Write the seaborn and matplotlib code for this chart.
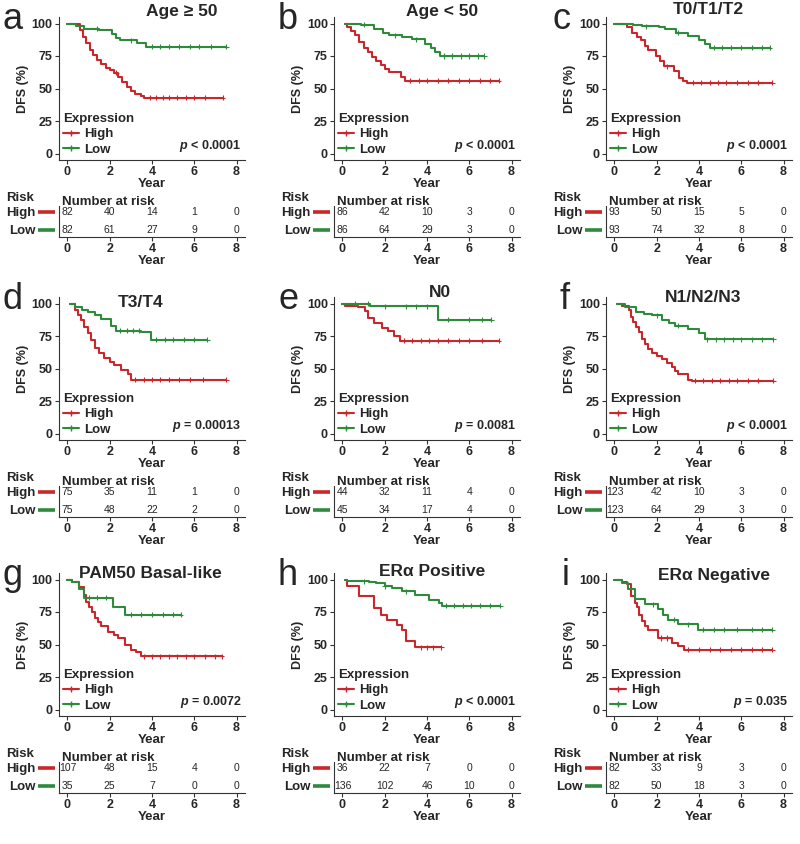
import numpy as np
import pandas as pd
import matplotlib
matplotlib.use('Agg')
import matplotlib.pyplot as plt
from matplotlib.lines import Line2D
import seaborn as sns

# --- curves: step times (years) and DFS (%) ---
a_high_t = [0, 0.6, 0.75, 0.9, 1.05, 1.2, 1.4, 1.6, 1.8, 2.0, 2.2, 2.4, 2.6, 2.8, 3.0, 3.2, 3.5, 3.6, 7.35]
a_high_s = [100, 95, 90, 85, 80, 76, 72, 69, 66, 64, 62, 59, 55, 51, 48, 46, 44, 43, 43]
a_low_t = [0, 0.4, 0.8, 1.5, 2.1, 2.3, 2.5, 3.3, 3.7, 7.5]
a_low_s = [100, 98, 96, 95, 92, 89, 87, 85, 82, 82]
a_high_c = [2.3, 3.9, 4.2, 4.5, 4.8, 5.2, 5.6, 6.0, 6.5, 7.35]
a_low_c = [1.4, 3.0, 4.0, 4.4, 4.8, 5.3, 5.8, 6.2, 6.8, 7.5]

b_high_t = [0.1, 0.2, 0.4, 0.6, 0.8, 1.0, 1.2, 1.4, 1.6, 1.8, 2.0, 2.2, 2.75, 2.95, 7.4]
b_high_s = [100, 97, 94, 91, 86, 81, 78, 74, 71, 68, 65, 62.5, 59, 56, 56]
b_low_t = [0.1, 0.9, 1.5, 1.9, 2.2, 2.8, 3.3, 3.9, 4.2, 4.4, 4.6, 6.7]
b_low_s = [100, 99, 96, 93, 91, 90, 88, 84, 81, 78, 75, 75]
b_high_c = [3.2, 3.6, 4.0, 4.5, 5.0, 5.5, 6.0, 6.5, 7.0, 7.4]
b_low_c = [1.0, 2.5, 3.5, 4.8, 5.2, 5.6, 6.0, 6.4, 6.7]

c_high_t = [0, 0.6, 0.85, 1.05, 1.25, 1.45, 1.6, 1.95, 2.15, 2.35, 2.8, 3.05, 3.25, 3.45, 7.45]
c_high_s = [100, 97, 93, 90, 87, 83, 80, 75, 71, 67, 63.5, 58, 56, 54.5, 54.5]
c_low_t = [0, 0.9, 1.3, 2.1, 2.4, 2.9, 3.5, 4.0, 4.3, 4.5, 7.35]
c_low_s = [100, 99, 98, 97, 95.5, 93, 90.5, 87, 84, 81.5, 81.5]
c_high_c = [2.5, 3.7, 4.1, 4.5, 4.9, 5.3, 5.8, 6.3, 6.8, 7.45]
c_low_c = [1.5, 3.0, 4.7, 5.1, 5.5, 6.0, 6.5, 7.0, 7.35]

d_high_t = [0.1, 0.35, 0.5, 0.66, 0.8, 0.97, 1.1, 1.3, 1.5, 1.75, 2.0, 2.2, 2.55, 2.85, 3.0, 7.5]
d_high_s = [100, 95, 91, 87, 82, 77, 72, 66, 62, 58, 55, 53, 49, 45.5, 41.5, 41.5]
d_low_t = [0.1, 0.35, 0.7, 0.97, 1.3, 1.6, 2.07, 2.3, 3.5, 3.95, 6.6]
d_low_s = [100, 97, 95, 93.5, 91, 88, 83, 79, 78, 72, 72]
d_high_c = [3.2, 3.6, 4.0, 4.4, 4.8, 5.3, 5.8, 6.4, 7.5]
d_low_c = [2.5, 2.8, 3.1, 3.4, 4.2, 4.6, 5.0, 5.5, 6.0, 6.6]

e_high_t = [0, 0.1, 0.75, 1.05, 1.2, 1.5, 1.85, 2.15, 2.45, 2.7, 7.4]
e_high_s = [100, 98, 97, 94, 89, 85, 81, 79, 75, 71.5, 71.5]
e_low_t = [0, 1.3, 4.5, 7.05]
e_low_s = [100, 98, 87.5, 87.5]
e_high_c = [2.9, 3.3, 3.7, 4.1, 4.5, 5.0, 5.5, 6.0, 6.6, 7.4]
e_low_c = [0.6, 1.2, 2.0, 3.0, 3.5, 4.0, 5.0, 6.0, 6.6, 7.05]

f_high_t = [0.1, 0.36, 0.67, 0.8, 0.9, 1.0, 1.14, 1.3, 1.45, 1.6, 1.77, 2.0, 2.24, 2.5, 2.7, 2.85, 3.0, 3.5, 3.65, 7.5]
f_high_s = [100, 98, 95, 90, 86, 82, 78, 73, 69, 65, 62, 59.5, 57, 54, 51, 48, 45.5, 41.5, 40.5, 40.5]
f_low_t = [0.1, 0.5, 1.0, 1.4, 1.77, 2.24, 2.6, 2.86, 3.5, 4.0, 4.27, 7.5]
f_low_s = [100, 97, 93.5, 92, 91, 87, 85, 83, 80.5, 77, 72.5, 72.5]
f_high_c = [3.8, 4.2, 4.6, 5.0, 5.4, 5.8, 6.3, 6.8, 7.5]
f_low_c = [2.0, 3.0, 4.4, 4.8, 5.2, 5.6, 6.0, 6.5, 7.0, 7.5]

g_high_t = [0, 0.22, 0.53, 0.77, 0.9, 1.0, 1.15, 1.3, 1.45, 1.6, 1.94, 2.2, 2.4, 2.7, 3.0, 3.25, 3.5, 7.3]
g_high_s = [100, 98, 94, 88, 83, 78.5, 75, 70.5, 67, 64, 60, 57, 55, 50, 46, 44, 41, 41]
g_low_t = [0, 0.22, 0.53, 0.77, 2.17, 2.7, 5.35]
g_low_s = [100, 98, 93, 86, 79, 73, 73]
g_high_c = [3.6, 4.0, 4.4, 4.8, 5.2, 5.6, 6.0, 6.5, 7.0, 7.3]
g_low_c = [1.0, 1.4, 1.8, 3.0, 3.5, 4.0, 4.5, 5.0, 5.35]

h_high_t = [0.1, 0.2, 0.8, 1.5, 1.8, 2.1, 2.6, 2.8, 3.0, 3.45, 4.68]
h_high_s = [100, 95, 87, 78, 73, 69, 65, 61, 53, 48, 48]
h_low_t = [0.1, 0.2, 1.25, 1.57, 2.0, 2.35, 2.8, 3.45, 4.1, 4.55, 4.7, 7.45]
h_low_s = [100, 98.5, 98, 97, 95, 93.5, 91, 88, 84.5, 82, 80, 80]
h_high_c = [3.7, 4.0, 4.3, 4.68]
h_low_c = [1.0, 2.0, 3.0, 4.9, 5.3, 5.7, 6.1, 6.5, 7.0, 7.45]

i_high_t = [0, 0.34, 0.58, 0.8, 0.95, 1.05, 1.15, 1.28, 1.45, 1.6, 2.06, 2.7, 3.0, 3.3, 7.45]
i_high_s = [100, 98, 96.5, 87.5, 82, 78.5, 73, 68, 64, 61.5, 55, 51, 48.5, 46, 46]
i_low_t = [0, 0.34, 0.66, 0.97, 1.44, 2.06, 2.3, 2.53, 3.0, 3.94, 7.45]
i_low_s = [100, 97, 92.5, 85, 81, 77, 73, 69, 65.5, 61.5, 61.5]
i_high_c = [2.2, 2.5, 3.5, 4.0, 4.5, 5.0, 5.5, 6.0, 6.5, 7.0, 7.45]
i_low_c = [1.8, 2.8, 3.5, 4.2, 4.7, 5.2, 5.8, 6.5, 7.0, 7.45]

# --- number at risk at years 0, 2, 4, 6, 8 ---
risk_years = [0, 2, 4, 6, 8]
a_risk_high = [82, 40, 14, 1, 0]
a_risk_low = [82, 61, 27, 9, 0]
b_risk_high = [86, 42, 10, 3, 0]
b_risk_low = [86, 64, 29, 3, 0]
c_risk_high = [93, 50, 15, 5, 0]
c_risk_low = [93, 74, 32, 8, 0]
d_risk_high = [75, 35, 11, 1, 0]
d_risk_low = [75, 48, 22, 2, 0]
e_risk_high = [44, 32, 11, 4, 0]
e_risk_low = [45, 34, 17, 4, 0]
f_risk_high = [123, 42, 10, 3, 0]
f_risk_low = [123, 64, 29, 3, 0]
g_risk_high = [107, 48, 15, 4, 0]
g_risk_low = [35, 25, 7, 0, 0]
h_risk_high = [36, 22, 7, 0, 0]
h_risk_low = [136, 102, 46, 10, 0]
i_risk_high = [82, 33, 9, 3, 0]
i_risk_low = [82, 50, 18, 3, 0]

letters = ['a', 'b', 'c', 'd', 'e', 'f', 'g', 'h', 'i']
titles = ['Age ≥ 50', 'Age < 50', 'T0/T1/T2', 'T3/T4', 'N0', 'N1/N2/N3',
          'PAM50 Basal-like', 'ERα Positive', 'ERα Negative']
pvals = ['< 0.0001', '< 0.0001', '< 0.0001', '= 0.00013', '= 0.0081', '< 0.0001',
         '= 0.0072', '< 0.0001', '= 0.035']

curves = [
    (a_high_t, a_high_s, a_high_c, a_low_t, a_low_s, a_low_c, a_risk_high, a_risk_low),
    (b_high_t, b_high_s, b_high_c, b_low_t, b_low_s, b_low_c, b_risk_high, b_risk_low),
    (c_high_t, c_high_s, c_high_c, c_low_t, c_low_s, c_low_c, c_risk_high, c_risk_low),
    (d_high_t, d_high_s, d_high_c, d_low_t, d_low_s, d_low_c, d_risk_high, d_risk_low),
    (e_high_t, e_high_s, e_high_c, e_low_t, e_low_s, e_low_c, e_risk_high, e_risk_low),
    (f_high_t, f_high_s, f_high_c, f_low_t, f_low_s, f_low_c, f_risk_high, f_risk_low),
    (g_high_t, g_high_s, g_high_c, g_low_t, g_low_s, g_low_c, g_risk_high, g_risk_low),
    (h_high_t, h_high_s, h_high_c, h_low_t, h_low_s, h_low_c, h_risk_high, h_risk_low),
    (i_high_t, i_high_s, i_high_c, i_low_t, i_low_s, i_low_c, i_risk_high, i_risk_low),
]

# layout (pixels) and title placement (axes fraction)
W, H = 800, 844
col_left = [59, 334, 606]
row_top = [17, 297, 573]
ax_w, km_h = 186, 143
tab_off, tab_h = 189, 31
title_pos = [(0.66, 1.04), (0.58, 1.04), (0.55, 1.05),
             (0.44, 0.965), (0.57, 1.03), (0.52, 1.0),
             (0.49, 1.0), (0.53, 1.01), (0.58, 0.98)]

pal = {'High': '#C8282B', 'Low': '#2E8B3C'}

sns.set_theme(style='ticks')
plt.rcParams['font.family'] = ['Liberation Sans', 'DejaVu Sans']
plt.rcParams['mathtext.fontset'] = 'custom'
plt.rcParams['mathtext.it'] = 'Liberation Sans:italic:bold'
plt.rcParams['mathtext.rm'] = 'Liberation Sans:bold'


def px_axes(fig, left, top, w, h):
    return fig.add_axes([left / W, 1 - (top + h) / H, w / W, h / H])


def step_at(t, s, c):
    idx = np.searchsorted(t, c, side='right') - 1
    return np.asarray(s)[idx]


def style_x(ax):
    ax.set_xlim(-0.4, 8.4)
    ax.set_xticks([0, 2, 4, 6, 8])
    ax.tick_params(axis='both', length=3, width=0.8, color='#333333', labelsize=9, pad=1.5)
    for lab in ax.get_xticklabels() + ax.get_yticklabels():
        lab.set_fontweight('bold')
    ax.set_xlabel('Year', fontsize=9.5, fontweight='bold', labelpad=0)
    for sp in ['left', 'bottom']:
        ax.spines[sp].set_linewidth(0.8)
        ax.spines[sp].set_color('#333333')


fig = plt.figure(figsize=(8, 8.44), dpi=100)

for k, (ht, hs, hc, lt, ls, lc, rh, rl) in enumerate(curves):
    r, c = divmod(k, 3)
    left, top = col_left[c], row_top[r]

    # --- survival curves ---
    ax = px_axes(fig, left, top, ax_w, km_h)
    df = pd.concat([
        pd.DataFrame({'time': ht, 'surv': hs, 'group': 'High'}),
        pd.DataFrame({'time': lt, 'surv': ls, 'group': 'Low'}),
    ])
    sns.lineplot(data=df, x='time', y='surv', hue='group', palette=pal, estimator=None,
                 sort=False, drawstyle='steps-post', linewidth=1.5, legend=False, ax=ax)
    cdf = pd.concat([
        pd.DataFrame({'time': hc, 'surv': step_at(ht, hs, hc), 'group': 'High'}),
        pd.DataFrame({'time': lc, 'surv': step_at(lt, ls, lc), 'group': 'Low'}),
    ])
    sns.scatterplot(data=cdf, x='time', y='surv', hue='group', palette=pal, marker='+',
                    s=14, linewidth=0.8, legend=False, ax=ax, zorder=3)
    ax.set_ylim(-5, 105)
    ax.set_yticks([0, 25, 50, 75, 100])
    sns.despine(ax=ax)
    style_x(ax)
    ax.set_ylabel('DFS (%)', fontsize=9, fontweight='bold', labelpad=2)

    handles = [Line2D([], [], color=pal[g], marker='+', markersize=5, lw=1.5) for g in ['High', 'Low']]
    leg = ax.legend(handles, ['High', 'Low'], title='Expression', loc='lower left',
                    bbox_to_anchor=(0.02, 0.03), frameon=False, borderpad=0, borderaxespad=0,
                    handlelength=1.2, handletextpad=0.4, labelspacing=0.25,
                    prop={'weight': 'bold', 'size': 9.5}, alignment='left')
    leg.get_title().set_fontweight('bold')
    leg.get_title().set_fontsize(9.5)

    ax.text(0.98, 0.1, r'$p$ ' + pvals[k], transform=ax.transAxes, ha='right', va='center',
            fontsize=9, fontweight='bold')
    tx, ty = title_pos[k]
    ax.text(tx, ty, titles[k], transform=ax.transAxes, ha='center', va='center',
            fontsize=12.5, fontweight='bold')
    fig.text((left - 36) / W, 1 - (top + 12) / H, letters[k], ha='right', va='baseline',
             fontsize=26)

    # --- number-at-risk table ---
    tb = px_axes(fig, left, top + tab_off, ax_w, tab_h)
    tb.set_ylim(0.6, 2.32)
    tb.set_yticks([2, 1])
    tb.set_yticklabels(['High', 'Low'])
    sns.despine(ax=tb)
    style_x(tb)
    tb.tick_params(axis='y', length=0, labelsize=9.5, pad=17)
    for lab in tb.get_yticklabels():
        lab.set_fontweight('bold')
    for yv, g in [(2, 'High'), (1, 'Low')]:
        tb.plot([-0.115, -0.02], [yv, yv], color=pal[g], lw=2.6, solid_capstyle='butt',
                transform=tb.get_yaxis_transform(), clip_on=False)
    for yr, nh, nl in zip(risk_years, rh, rl):
        tb.text(yr, 2, str(nh), ha='center', va='center', fontsize=7.5)
        tb.text(yr, 1, str(nl), ha='center', va='center', fontsize=7.5)
    tb.text(0.015, 1.14, 'Number at risk', transform=tb.transAxes, ha='left', va='center',
            fontsize=9.5, fontweight='bold')
    tb.text(-0.285, 1.27, 'Risk', transform=tb.transAxes, ha='left', va='center',
            fontsize=9.5, fontweight='bold')

fig.savefig('out.png', dpi=100)
